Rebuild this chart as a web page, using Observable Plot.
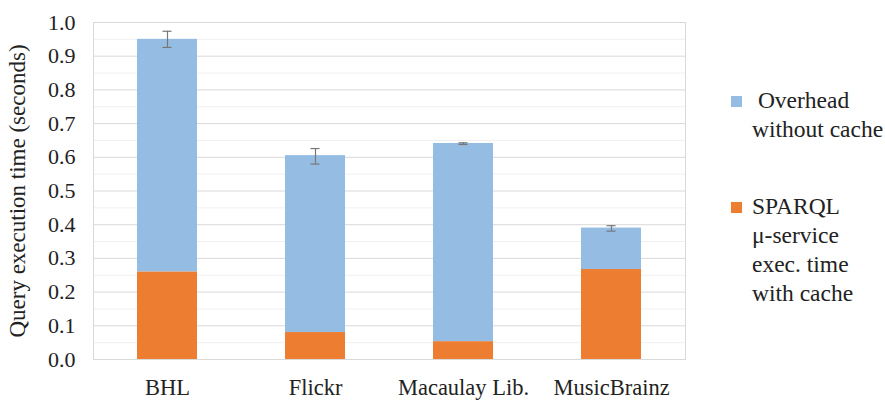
<!DOCTYPE html>
<html>
<head>
<meta charset="utf-8">
<script src="https://cdn.jsdelivr.net/npm/d3@7"></script>
<script src="https://cdn.jsdelivr.net/npm/@observablehq/plot@0.6"></script>
<style>
  body { margin: 0; background: #fff; }
  #wrap { position: relative; width: 885px; height: 400px; font-family: 'Liberation Serif', 'DejaVu Serif', serif; }
  .legend { position: absolute; left: 731px; font-size: 23.5px; color: #222; line-height: 29px; }
  .legend .sw { position: absolute; left: 0; width: 11px; height: 11px; }
  .legend .tx { margin-left: 21px; white-space: nowrap; }
</style>
</head>
<body>
<div id="wrap"></div>
<script>
const categories = ["BHL", "Flickr", "Macaulay Lib.", "MusicBrainz"];
const sparqlWithCache = [0.26, 0.08, 0.053, 0.267];
const overheadWithoutCache = [0.69, 0.525, 0.588, 0.123];
const errLow = [0.926, 0.580, 0.638, 0.381];
const errHigh = [0.974, 0.626, 0.643, 0.397];
const seriesNames = ["SPARQL μ-service exec. time with cache", "Overhead without cache"];
const seriesColors = ["#ED7D31", "#95BDE3"];
const yTicks = [0, 0.1, 0.2, 0.3, 0.4, 0.5, 0.6, 0.7, 0.8, 0.9, 1.0];
const yMinor = [0.05, 0.15, 0.25, 0.35, 0.45, 0.55, 0.65, 0.75, 0.85, 0.95];

const rows = [];
categories.forEach((c, i) => {
  rows.push({cat: c, series: seriesNames[0], value: sparqlWithCache[i], order: 0});
  rows.push({cat: c, series: seriesNames[1], value: overheadWithoutCache[i], order: 1});
});
const errs = categories.map((c, i) => ({cat: c, lo: errLow[i], hi: errHigh[i]}));

const serif = "'Liberation Serif', 'DejaVu Serif', serif";
const plot = Plot.plot({
  width: 885,
  height: 400,
  marginLeft: 93,
  marginRight: 200,
  marginTop: 22,
  marginBottom: 41,
  style: {fontFamily: serif, fontSize: "22px", color: "#222", background: "#fff"},
  x: {domain: categories, paddingInner: 0.595, paddingOuter: 0.2975, label: null},
  y: {domain: [0, 1], label: null},
  color: {domain: seriesNames, range: seriesColors},
  marks: [
    Plot.ruleY(yMinor, {stroke: "#f0f0f0", strokeWidth: 1}),
    Plot.ruleY(yTicks, {stroke: "#d9d9d9", strokeWidth: 1}),
    Plot.frame({stroke: "#d9d9d9"}),
    Plot.barY(rows, {x: "cat", y: "value", fill: "series", order: (d) => d.order}),
    Plot.ruleX(errs, {x: "cat", y1: "lo", y2: "hi", stroke: "#777", strokeWidth: 1.2}),
    Plot.tickY(errs, {x: "cat", y: "lo", stroke: "#777", strokeWidth: 1.2, insetLeft: 25.5, insetRight: 25.5}),
    Plot.tickY(errs, {x: "cat", y: "hi", stroke: "#777", strokeWidth: 1.2, insetLeft: 25.5, insetRight: 25.5}),
    Plot.axisY({ticks: yTicks, tickFormat: d3.format(".1f"), tickSize: 0, tickPadding: 18,
      label: null, fontSize: 22, fontFamily: serif}),
    Plot.axisY({ticks: [], tickSize: 0, label: "Query execution time (seconds)", labelAnchor: "center",
      labelArrow: "none", labelOffset: 85, fontSize: 23, fontFamily: serif}),
    Plot.axisX({tickSize: 0, tickPadding: 20, fontSize: 22.5, fontFamily: serif, label: null})
  ]
});
const wrap = document.getElementById("wrap");
wrap.appendChild(plot);

const legendItems = [
  {color: seriesColors[1], lines: ["\u00a0Overhead", "without cache"], top: 86},
  {color: seriesColors[0], lines: ["SPARQL", "μ-service", "exec. time", "with cache"], top: 192}
];
legendItems.forEach(item => {
  const div = document.createElement("div");
  div.className = "legend";
  div.style.top = item.top + "px";
  const sw = document.createElement("div");
  sw.className = "sw";
  sw.style.background = item.color;
  sw.style.top = "10px";
  div.appendChild(sw);
  item.lines.forEach(l => {
    const t = document.createElement("div");
    t.className = "tx";
    t.textContent = l;
    div.appendChild(t);
  });
  wrap.appendChild(div);
});
</script>
</body>
</html>
